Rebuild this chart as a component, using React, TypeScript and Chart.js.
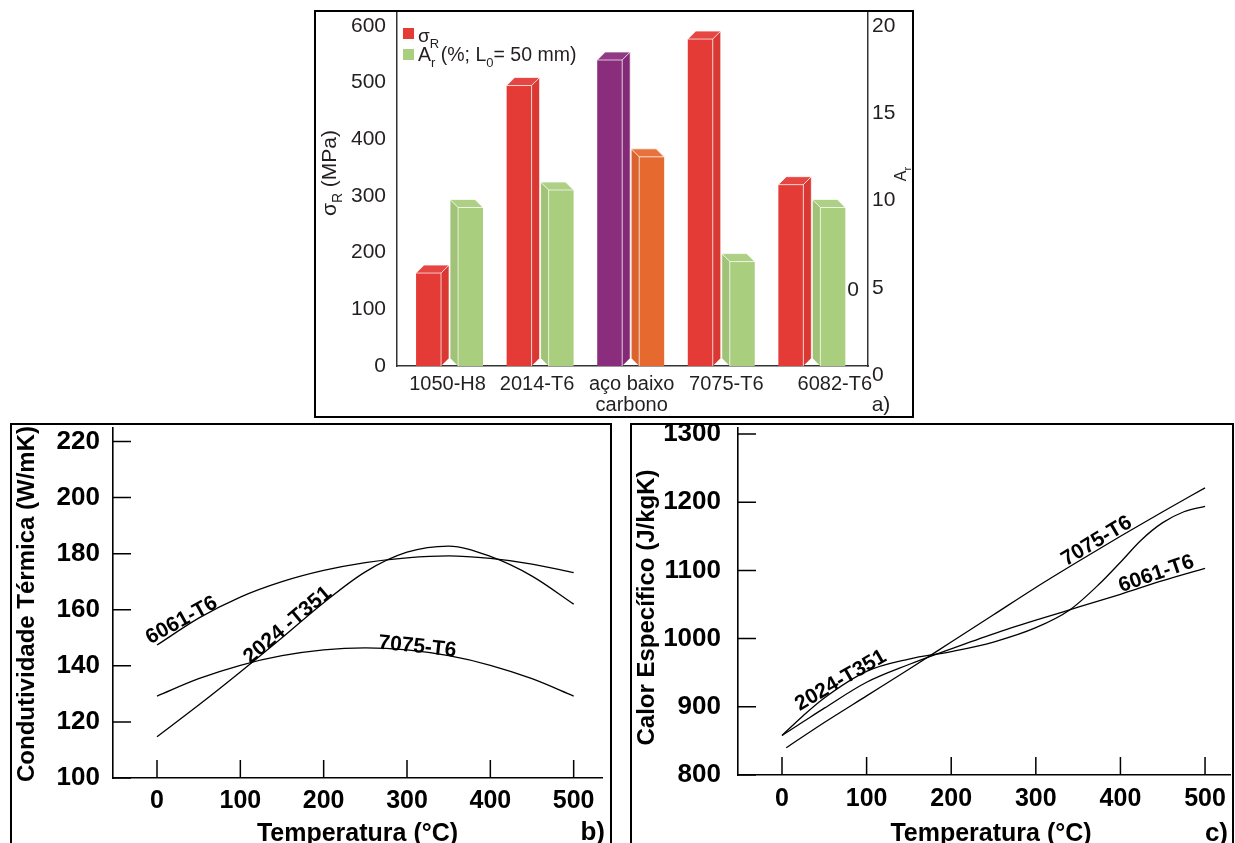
import React, { useEffect, useRef } from "react";
import { Chart, registerables } from "chart.js";

Chart.register(...registerables);

const FONT = '"Liberation Sans", Arial, Helvetica, sans-serif';
const INK = "#000";
const INK_SOFT = "#231f20";

// (a) tensile strength σR (MPa) and elongation Ar (%)
const alloyLabels = [["1050-H8"], ["2014-T6"], ["aço baixo", "carbono"], ["7075-T6"], ["6082-T6"]];
const tensileStrength = [164, 495, 540, 577, 320];
const elongation = [9.6, 10.6, 12.5, 6.5, 9.6];
const strengthTicks = [0, 100, 200, 300, 400, 500, 600];
const elongationTicks = [0, 5, 10, 15, 20];

// (b) thermal conductivity (W/mK) against temperature (°C)
const condTemps = [0, 50, 100, 150, 200, 250, 300, 350, 400, 450, 500];
const cond6061 = [147.4, 157, 164.5, 170, 174, 176.8, 178.5, 179.2, 178.3, 176.3, 173.2];
const cond2024 = [114.7, 126, 137.8, 150, 162.5, 173.5, 180.5, 182.7, 179, 172, 162];
const cond7075 = [129.2, 135.4, 140.2, 143.6, 145.7, 146.4, 145.7, 143.6, 140.2, 135.4, 129.2];
const condTicks = [100, 120, 140, 160, 180, 200, 220];

// (c) specific heat (J/kgK) against temperature (°C)
const cpTemps2024 = [0, 25, 50, 100, 150, 200, 250, 300, 340, 375, 400, 425, 450, 475, 500];
const cp2024 = [858, 887, 913, 952, 970, 981, 995, 1016, 1042, 1080, 1112, 1145, 1170, 1186, 1194];
const cpTemps6061 = [0, 25, 50, 100, 150, 200, 250, 300, 350, 400, 450, 500];
const cp6061 = [858, 878, 898, 936, 962, 985, 1007, 1027, 1046, 1065, 1085, 1103];
const cpTemps7075 = [5, 50, 100, 150, 200, 250, 300, 350, 400, 450, 500];
const cp7075 = [840, 877, 916, 955, 995, 1035, 1075, 1113, 1150, 1186, 1221];
const cpTicks = [800, 900, 1000, 1100, 1200, 1300];

const tempTicks = [0, 100, 200, 300, 400, 500];

// bar colours
const RED = "#e53b36";
const GREEN = "#a9ce7e";
const PURPLE = "#8b2d7d";
const ORANGE = "#e66a2f";
const strengthColors = [RED, RED, PURPLE, RED, RED];
const elongationColors = [GREEN, GREEN, ORANGE, GREEN, GREEN];

type Seg = { t: string; sub?: boolean };

// draws text with subscript pieces, aligned left or centred on x
function drawRich(ctx: CanvasRenderingContext2D, segs: Seg[], x: number, y: number, size: number, align: "left" | "center") {
  const main = `${size}px ${FONT}`;
  const small = `${Math.round(size * 0.68)}px ${FONT}`;
  ctx.textAlign = "left";
  ctx.textBaseline = "alphabetic";
  let w = 0;
  for (const s of segs) {
    ctx.font = s.sub ? small : main;
    w += ctx.measureText(s.t).width;
  }
  let cx = align === "center" ? x - w / 2 : x;
  for (const s of segs) {
    ctx.font = s.sub ? small : main;
    ctx.fillText(s.t, cx, s.sub ? y + size * 0.3 : y);
    cx += ctx.measureText(s.t).width;
  }
}

// pseudo-3D bars: a side face and a top cap added to each front face
const DEPTH = 8;
const bar3d = {
  id: "bar3d",
  afterDatasetsDraw(chart: any) {
    const ctx: CanvasRenderingContext2D = chart.ctx;
    const floor = chart.chartArea.bottom;
    chart.data.datasets.forEach((ds: any, di: number) => {
      const meta = chart.getDatasetMeta(di);
      const dir = di === 0 ? 1 : -1;
      meta.data.forEach((bar: any, i: number) => {
        const props = bar.getProps(["x", "y", "base", "width"], true);
        const { x, y, width } = props;
        const base = Math.min(props.base, floor);
        const l = x - width / 2;
        const r = x + width / 2;
        const sx = dir > 0 ? r : l;
        const fill = ds.backgroundColor[i];
        ctx.save();
        // side face
        ctx.beginPath();
        ctx.moveTo(sx, y);
        ctx.lineTo(sx + dir * DEPTH, y - DEPTH);
        ctx.lineTo(sx + dir * DEPTH, base - DEPTH);
        ctx.lineTo(sx, base);
        ctx.closePath();
        ctx.fillStyle = fill;
        ctx.fill();
        ctx.fillStyle = "rgba(0,0,0,0.05)";
        ctx.fill();
        // top cap
        ctx.beginPath();
        ctx.moveTo(l, y);
        ctx.lineTo(l + dir * DEPTH, y - DEPTH);
        ctx.lineTo(r + dir * DEPTH, y - DEPTH);
        ctx.lineTo(r, y);
        ctx.closePath();
        ctx.fillStyle = fill;
        ctx.fill();
        ctx.fillStyle = "rgba(255,255,255,0.06)";
        ctx.fill();
        // light edges
        ctx.strokeStyle = "rgba(255,255,255,0.7)";
        ctx.lineWidth = 1;
        ctx.beginPath();
        ctx.moveTo(l, y);
        ctx.lineTo(r, y);
        ctx.moveTo(sx, y);
        ctx.lineTo(sx, base);
        ctx.moveTo(l, y);
        ctx.lineTo(l + dir * DEPTH, y - DEPTH);
        ctx.lineTo(r + dir * DEPTH, y - DEPTH);
        ctx.lineTo(r, y);
        ctx.moveTo(sx + dir * DEPTH, y - DEPTH);
        ctx.lineTo(sx + dir * DEPTH, base - DEPTH);
        ctx.stroke();
        ctx.restore();
      });
    });
  },
};

// legend, axis titles and category names of the bar panel
const categoryShift = [-2, -3, 1, 5, 23];
const strengthDecor = {
  id: "strengthDecor",
  afterDraw(chart: any) {
    const ctx: CanvasRenderingContext2D = chart.ctx;
    const a = chart.chartArea;
    const sx = chart.scales.x;
    const y2 = chart.scales.y2;
    ctx.save();
    // legend
    ctx.fillStyle = RED;
    ctx.fillRect(a.left + 6, a.top + 15, 11, 11);
    ctx.fillStyle = GREEN;
    ctx.fillRect(a.left + 6, a.top + 36, 11, 11);
    ctx.fillStyle = INK_SOFT;
    drawRich(ctx, [{ t: "σ" }, { t: "R", sub: true }], a.left + 21, a.top + 29, 19, "left");
    drawRich(
      ctx,
      [{ t: "A" }, { t: "r", sub: true }, { t: " (%; L" }, { t: "0", sub: true }, { t: "= 50 mm)" }],
      a.left + 21,
      a.top + 48,
      19.5,
      "left"
    );
    // category names
    ctx.font = `20px ${FONT}`;
    ctx.textAlign = "center";
    ctx.textBaseline = "alphabetic";
    alloyLabels.forEach((lines, i) => {
      const px = sx.getPixelForValue(i) + categoryShift[i];
      lines.forEach((txt, k) => ctx.fillText(txt, px, a.bottom + 24 + k * 21));
    });
    // left axis title
    ctx.save();
    ctx.translate(a.left - 68, a.top + 160);
    ctx.rotate(-Math.PI / 2);
    drawRich(ctx, [{ t: "σ" }, { t: "R", sub: true }, { t: " (MPa)" }], 0, 7, 21, "center");
    ctx.restore();
    // right axis title
    ctx.save();
    ctx.translate(a.right + 32, a.top + 161);
    ctx.rotate(-Math.PI / 2);
    drawRich(ctx, [{ t: "A" }, { t: "r", sub: true }], 0, 6, 16, "center");
    ctx.restore();
    // stray zero beside the right axis
    ctx.font = `21px ${FONT}`;
    ctx.textAlign = "center";
    ctx.textBaseline = "middle";
    ctx.fillText("0", a.right - 15, y2.getPixelForValue(5) + 2);
    // panel letter
    ctx.textBaseline = "alphabetic";
    ctx.fillText("a)", a.right + 13, a.bottom + 45);
    ctx.restore();
  },
};

function makeStrengthChart(canvas: HTMLCanvasElement) {
  const tickFont = { family: FONT, size: 21 };
  return new Chart(canvas, {
    type: "bar",
    data: {
      datasets: [
        {
          label: "σR",
          data: tensileStrength.map((v, i) => ({ x: i, y: v })),
          backgroundColor: strengthColors,
          borderWidth: 0,
          yAxisID: "y",
          categoryPercentage: 0.927,
          barPercentage: 0.595,
        },
        {
          label: "Ar (%; L0= 50 mm)",
          data: elongation.map((v, i) => ({ x: i, y: v })),
          backgroundColor: elongationColors,
          borderWidth: 0,
          yAxisID: "y2",
          categoryPercentage: 0.927,
          barPercentage: 0.595,
        },
      ],
    } as any,
    options: {
      responsive: false,
      animation: false,
      devicePixelRatio: 1,
      events: [],
      layout: { padding: { top: 1, left: 0, right: 0, bottom: 0 } },
      plugins: { legend: { display: false }, tooltip: { enabled: false } },
      scales: {
        x: {
          type: "linear",
          min: -0.58,
          max: 4.62,
          offset: false,
          z: 1,
          grid: { display: false, drawTicks: false },
          ticks: { display: false },
          border: { color: "#333", width: 1.5 },
          afterBuildTicks: (s: any) => {
            s.ticks = alloyLabels.map((_, i) => ({ value: i }));
          },
          afterFit: (s: any) => {
            s.height = 49;
            s.paddingLeft = 0;
            s.paddingRight = 0;
          },
        },
        y: {
          position: "left",
          min: 0,
          max: 623,
          z: 1,
          grid: { display: false, drawTicks: false },
          border: { color: "#333", width: 1.5 },
          ticks: { font: tickFont, color: INK_SOFT, padding: 11, autoSkip: false, callback: (v: any) => String(v) },
          afterBuildTicks: (s: any) => {
            s.ticks = strengthTicks.map((v) => ({ value: v }));
          },
          afterFit: (s: any) => {
            s.width = 81;
            s.paddingTop = 0;
            s.paddingBottom = 0;
          },
        },
        y2: {
          position: "right",
          min: 0.52,
          max: 20.74,
          z: 1,
          grid: { display: false, drawTicks: false },
          border: { color: "#333", width: 1.5 },
          ticks: { font: tickFont, color: INK_SOFT, padding: 4, autoSkip: false, callback: (v: any) => String(v) },
          afterBuildTicks: (s: any) => {
            s.ticks = elongationTicks.map((v) => ({ value: v }));
          },
          afterFit: (s: any) => {
            s.width = 43;
            s.paddingTop = 0;
            s.paddingBottom = 0;
          },
        },
      },
    } as any,
    plugins: [bar3d, strengthDecor],
  });
}

type CurveLabel = { text: string; x: number; y: number; angle: number };
type Series = { name: string; temps: number[]; values: number[] };
type LineSpec = {
  series: Series[];
  yTicks: number[];
  xMin: number;
  xMax: number;
  yMin: number;
  yMax: number;
  xHeight: number;
  yWidth: number;
  padRight: number;
  xPad: number;
  yPad: number;
  yTitle: string;
  yTitleDx: number;
  yTitleDy: number;
  xTitleDx: number;
  xTitleDy: number;
  panel: string;
  panelDx: number;
  panelDy: number;
  labels: CurveLabel[];
};

// inward tick marks, curve names, axis titles and panel letter
function lineDecor(spec: LineSpec) {
  return {
    id: "lineDecor",
    afterDraw(chart: any) {
      const ctx: CanvasRenderingContext2D = chart.ctx;
      const a = chart.chartArea;
      const sx = chart.scales.x;
      const sy = chart.scales.y;
      ctx.save();
      ctx.strokeStyle = INK;
      ctx.lineWidth = 1.5;
      ctx.beginPath();
      for (const t of sy.ticks) {
        const p = sy.getPixelForValue(t.value);
        ctx.moveTo(a.left, p);
        ctx.lineTo(a.left + 18, p);
      }
      for (const t of sx.ticks) {
        const p = sx.getPixelForValue(t.value);
        ctx.moveTo(p, a.bottom);
        ctx.lineTo(p, a.bottom - 18);
      }
      ctx.stroke();

      ctx.fillStyle = INK;
      ctx.font = `bold 21px ${FONT}`;
      ctx.textAlign = "left";
      ctx.textBaseline = "alphabetic";
      for (const l of spec.labels) {
        ctx.save();
        ctx.translate(sx.getPixelForValue(l.x), sy.getPixelForValue(l.y));
        ctx.rotate((l.angle * Math.PI) / 180);
        ctx.fillText(l.text, 0, 0);
        ctx.restore();
      }

      ctx.font = `bold 24px ${FONT}`;
      ctx.textAlign = "center";
      ctx.save();
      ctx.translate(a.left + spec.yTitleDx, a.top + spec.yTitleDy);
      ctx.rotate(-Math.PI / 2);
      ctx.fillText(spec.yTitle, 0, 8.5);
      ctx.restore();

      ctx.font = `bold 25px ${FONT}`;
      ctx.fillText("Temperatura (°C)", a.left + spec.xTitleDx, a.bottom + spec.xTitleDy);

      ctx.textAlign = "right";
      ctx.font = `bold 26px ${FONT}`;
      ctx.fillText(spec.panel, a.right + spec.panelDx, a.bottom + spec.panelDy);
      ctx.restore();
    },
  };
}

function makeLineChart(canvas: HTMLCanvasElement, spec: LineSpec) {
  return new Chart(canvas, {
    type: "line",
    data: {
      datasets: spec.series.map((s) => ({
        label: s.name,
        data: s.temps.map((t, i) => ({ x: t, y: s.values[i] })),
        borderColor: INK,
        borderWidth: 1.3,
        pointRadius: 0,
        fill: false,
        cubicInterpolationMode: "monotone",
      })),
    } as any,
    options: {
      responsive: false,
      animation: false,
      devicePixelRatio: 1,
      events: [],
      layout: { padding: { top: 3, right: spec.padRight, left: 0, bottom: 0 } },
      plugins: { legend: { display: false }, tooltip: { enabled: false } },
      scales: {
        x: {
          type: "linear",
          min: spec.xMin,
          max: spec.xMax,
          grid: { display: false, drawTicks: false },
          border: { color: INK, width: 1.6 },
          ticks: {
            font: { family: FONT, size: 25, weight: "bold" },
            color: INK,
            padding: spec.xPad,
            autoSkip: false,
            maxRotation: 0,
            callback: (v: any) => String(v),
          },
          afterBuildTicks: (s: any) => {
            s.ticks = tempTicks.map((v) => ({ value: v }));
          },
          afterFit: (s: any) => {
            s.height = spec.xHeight;
            s.paddingLeft = 0;
            s.paddingRight = 0;
          },
        },
        y: {
          type: "linear",
          min: spec.yMin,
          max: spec.yMax,
          grid: { display: false, drawTicks: false },
          border: { color: INK, width: 1.6 },
          ticks: {
            font: { family: FONT, size: 26, weight: "bold" },
            color: INK,
            padding: spec.yPad,
            autoSkip: false,
            callback: (v: any) => String(v),
          },
          afterBuildTicks: (s: any) => {
            s.ticks = spec.yTicks.map((v) => ({ value: v }));
          },
          afterFit: (s: any) => {
            s.width = spec.yWidth;
            s.paddingTop = 0;
            s.paddingBottom = 0;
          },
        },
      },
    } as any,
    plugins: [lineDecor(spec)],
  });
}

const conductivitySpec: LineSpec = {
  series: [
    { name: "6061-T6", temps: condTemps, values: cond6061 },
    { name: "2024-T351", temps: condTemps, values: cond2024 },
    { name: "7075-T6", temps: condTemps, values: cond7075 },
  ],
  yTicks: condTicks,
  xMin: -52.8,
  xMax: 534,
  yMin: 100,
  yMax: 224.8,
  xHeight: 65,
  yWidth: 101,
  padRight: 7,
  xPad: 8,
  yPad: 13,
  yTitle: "Condutividade Térmica (W/mK)",
  yTitleDx: -87.5,
  yTitleDy: 176,
  xTitleDx: 244.5,
  xTitleDy: 63,
  panel: "b)",
  panelDx: 3,
  panelDy: 62,
  labels: [
    { text: "6061-T6", x: -8, y: 147.6, angle: -29 },
    { text: "2024 -T351", x: 112, y: 140.6, angle: -40 },
    { text: "7075-T6", x: 265, y: 146.2, angle: 6 },
  ],
};

const specificHeatSpec: LineSpec = {
  series: [
    { name: "2024-T351", temps: cpTemps2024, values: cp2024 },
    { name: "6061-T6", temps: cpTemps6061, values: cp6061 },
    { name: "7075-T6", temps: cpTemps7075, values: cp7075 },
  ],
  yTicks: cpTicks,
  xMin: -52,
  xMax: 529.5,
  yMin: 800,
  yMax: 1308.8,
  xHeight: 68,
  yWidth: 106,
  padRight: 1,
  xPad: 9,
  yPad: 17,
  yTitle: "Calor Específico (J/kgK)",
  yTitleDx: -92.4,
  yTitleDy: 179.5,
  xTitleDx: 253,
  xTitleDy: 66,
  panel: "c)",
  panelDx: -2,
  panelDy: 66,
  labels: [
    { text: "2024-T351", x: 21, y: 894, angle: -30 },
    { text: "7075-T6", x: 336, y: 1106, angle: -31 },
    { text: "6061-T6", x: 401, y: 1068, angle: -19 },
  ],
};

function ChartCanvas(props: {
  left: number;
  top: number;
  width: number;
  height: number;
  build: (c: HTMLCanvasElement) => Chart;
}) {
  const ref = useRef<HTMLCanvasElement>(null);
  useEffect(() => {
    const chart = props.build(ref.current as HTMLCanvasElement);
    return () => chart.destroy();
  }, []);
  return (
    <canvas
      ref={ref}
      width={props.width}
      height={props.height}
      style={{ position: "absolute", left: props.left, top: props.top, width: props.width, height: props.height }}
    />
  );
}

const frame = (left: number, top: number, width: number, height: number): React.CSSProperties => ({
  position: "absolute",
  left,
  top,
  width,
  height,
  border: "2px solid #000",
  boxSizing: "border-box",
});

export default function App() {
  return (
    <div style={{ position: "fixed", left: 0, top: 0, right: 0, bottom: 0, overflow: "hidden", background: "#fff" }}>
      <div style={frame(314, 10, 600, 408)} />
      <div style={frame(10, 423, 602, 440)} />
      <div style={frame(630, 423, 604, 440)} />
      <ChartCanvas left={316} top={12} width={595} height={403} build={makeStrengthChart} />
      <ChartCanvas left={12} top={425} width={597} height={418} build={(c) => makeLineChart(c, conductivitySpec)} />
      <ChartCanvas left={632} top={425} width={599} height={418} build={(c) => makeLineChart(c, specificHeatSpec)} />
    </div>
  );
}
